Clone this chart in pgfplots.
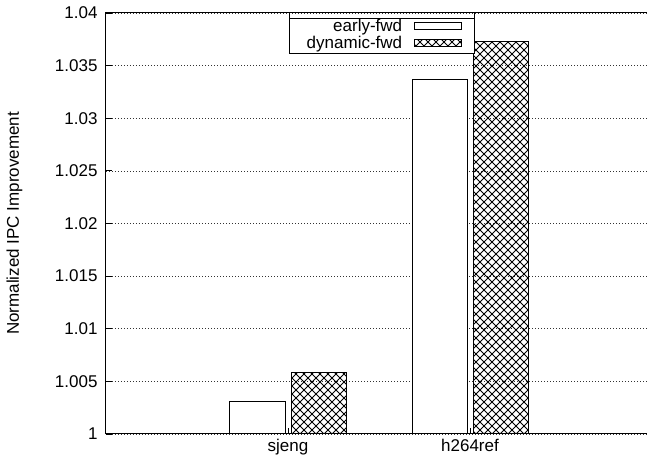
\documentclass[border=0pt]{standalone}
\usepackage{pgfplots}
\pgfplotsset{compat=1.18}
\usepackage{fontspec}
\setmainfont{Liberation Sans}
\usetikzlibrary{patterns}
\pgfdeclarepatternformonly{dcross}{\pgfqpoint{-1pt}{-1pt}}{\pgfqpoint{9pt}{9pt}}{\pgfqpoint{8pt}{8pt}}{%
  \pgfsetlinewidth{0.9pt}%
  \pgfpathmoveto{\pgfqpoint{0pt}{0pt}}\pgfpathlineto{\pgfqpoint{8pt}{8pt}}%
  \pgfpathmoveto{\pgfqpoint{0pt}{8pt}}\pgfpathlineto{\pgfqpoint{8pt}{0pt}}%
  \pgfusepath{stroke}}
\begin{document}
\begin{tikzpicture}[font=\fontsize{17}{20}\selectfont]
\useasboundingbox (-106pt,-28pt) rectangle (541pt,434pt);
\begin{axis}[
  at={(0pt,0pt)}, anchor=south west,
  scale only axis, width=546pt, height=421pt,
  xmin=0, xmax=3, ymin=1, ymax=1.04,
  ybar, bar width=55pt,
  axis line style={line width=1pt},
  xtick={1,2}, xticklabels={sjeng,h264ref},
  ytick={1,1.005,1.01,1.015,1.02,1.025,1.03,1.035,1.04},
  yticklabels={1,1.005,1.01,1.015,1.02,1.025,1.03,1.035,1.04},
  xtick pos=bottom, ytick pos=left,
  tick align=inside, major tick length=6pt,
  tick style={line width=0.8pt, black},
  yticklabel style={xshift=-5pt},
  xticklabel style={yshift=-2pt},
  ymajorgrids,
  grid style={line width=0.7pt, black!80, dash pattern=on 1pt off 2pt},
  ylabel={Normalized IPC Improvement},
  ylabel style={at={(axis description cs:0,0.5)}, anchor=south, yshift=80pt},
  legend style={name=leg, at={(0.51,1)}, anchor=north, yshift=-3pt, draw=none,
    fill=white, legend cell align=right, inner xsep=12pt, inner ysep=1pt,
    row sep=-1pt, column sep=12pt, nodes={inner xsep=0pt},
    font=\fontsize{17}{20}\selectfont},
  legend plot pos=right,
]
\addplot[bar shift=-30.5pt, fill=white, draw=black, line width=1pt,
  legend image code/.code={\draw[line width=1pt, fill=white] (0pt,-3.5pt) rectangle (47pt,3.5pt);}]
  coordinates {(1,1.0031) (2,1.0337)};
\addplot[bar shift=30.5pt, pattern=dcross, draw=black, line width=1pt,
  legend image code/.code={\draw[line width=1pt, pattern=dcross] (0pt,-3.5pt) rectangle (47pt,3.5pt);}]
  coordinates {(1,1.0058) (2,1.0373)};
\legend{early-fwd, dynamic-fwd}
\end{axis}
\draw[line width=1pt] ([xshift=-5pt]leg.south west) rectangle ([yshift=3pt]leg.north east);
\draw[line width=1pt] ([xshift=-5pt,yshift=-3pt]leg.north west) -- ([yshift=-3pt]leg.north east);
\end{tikzpicture}
\end{document}
